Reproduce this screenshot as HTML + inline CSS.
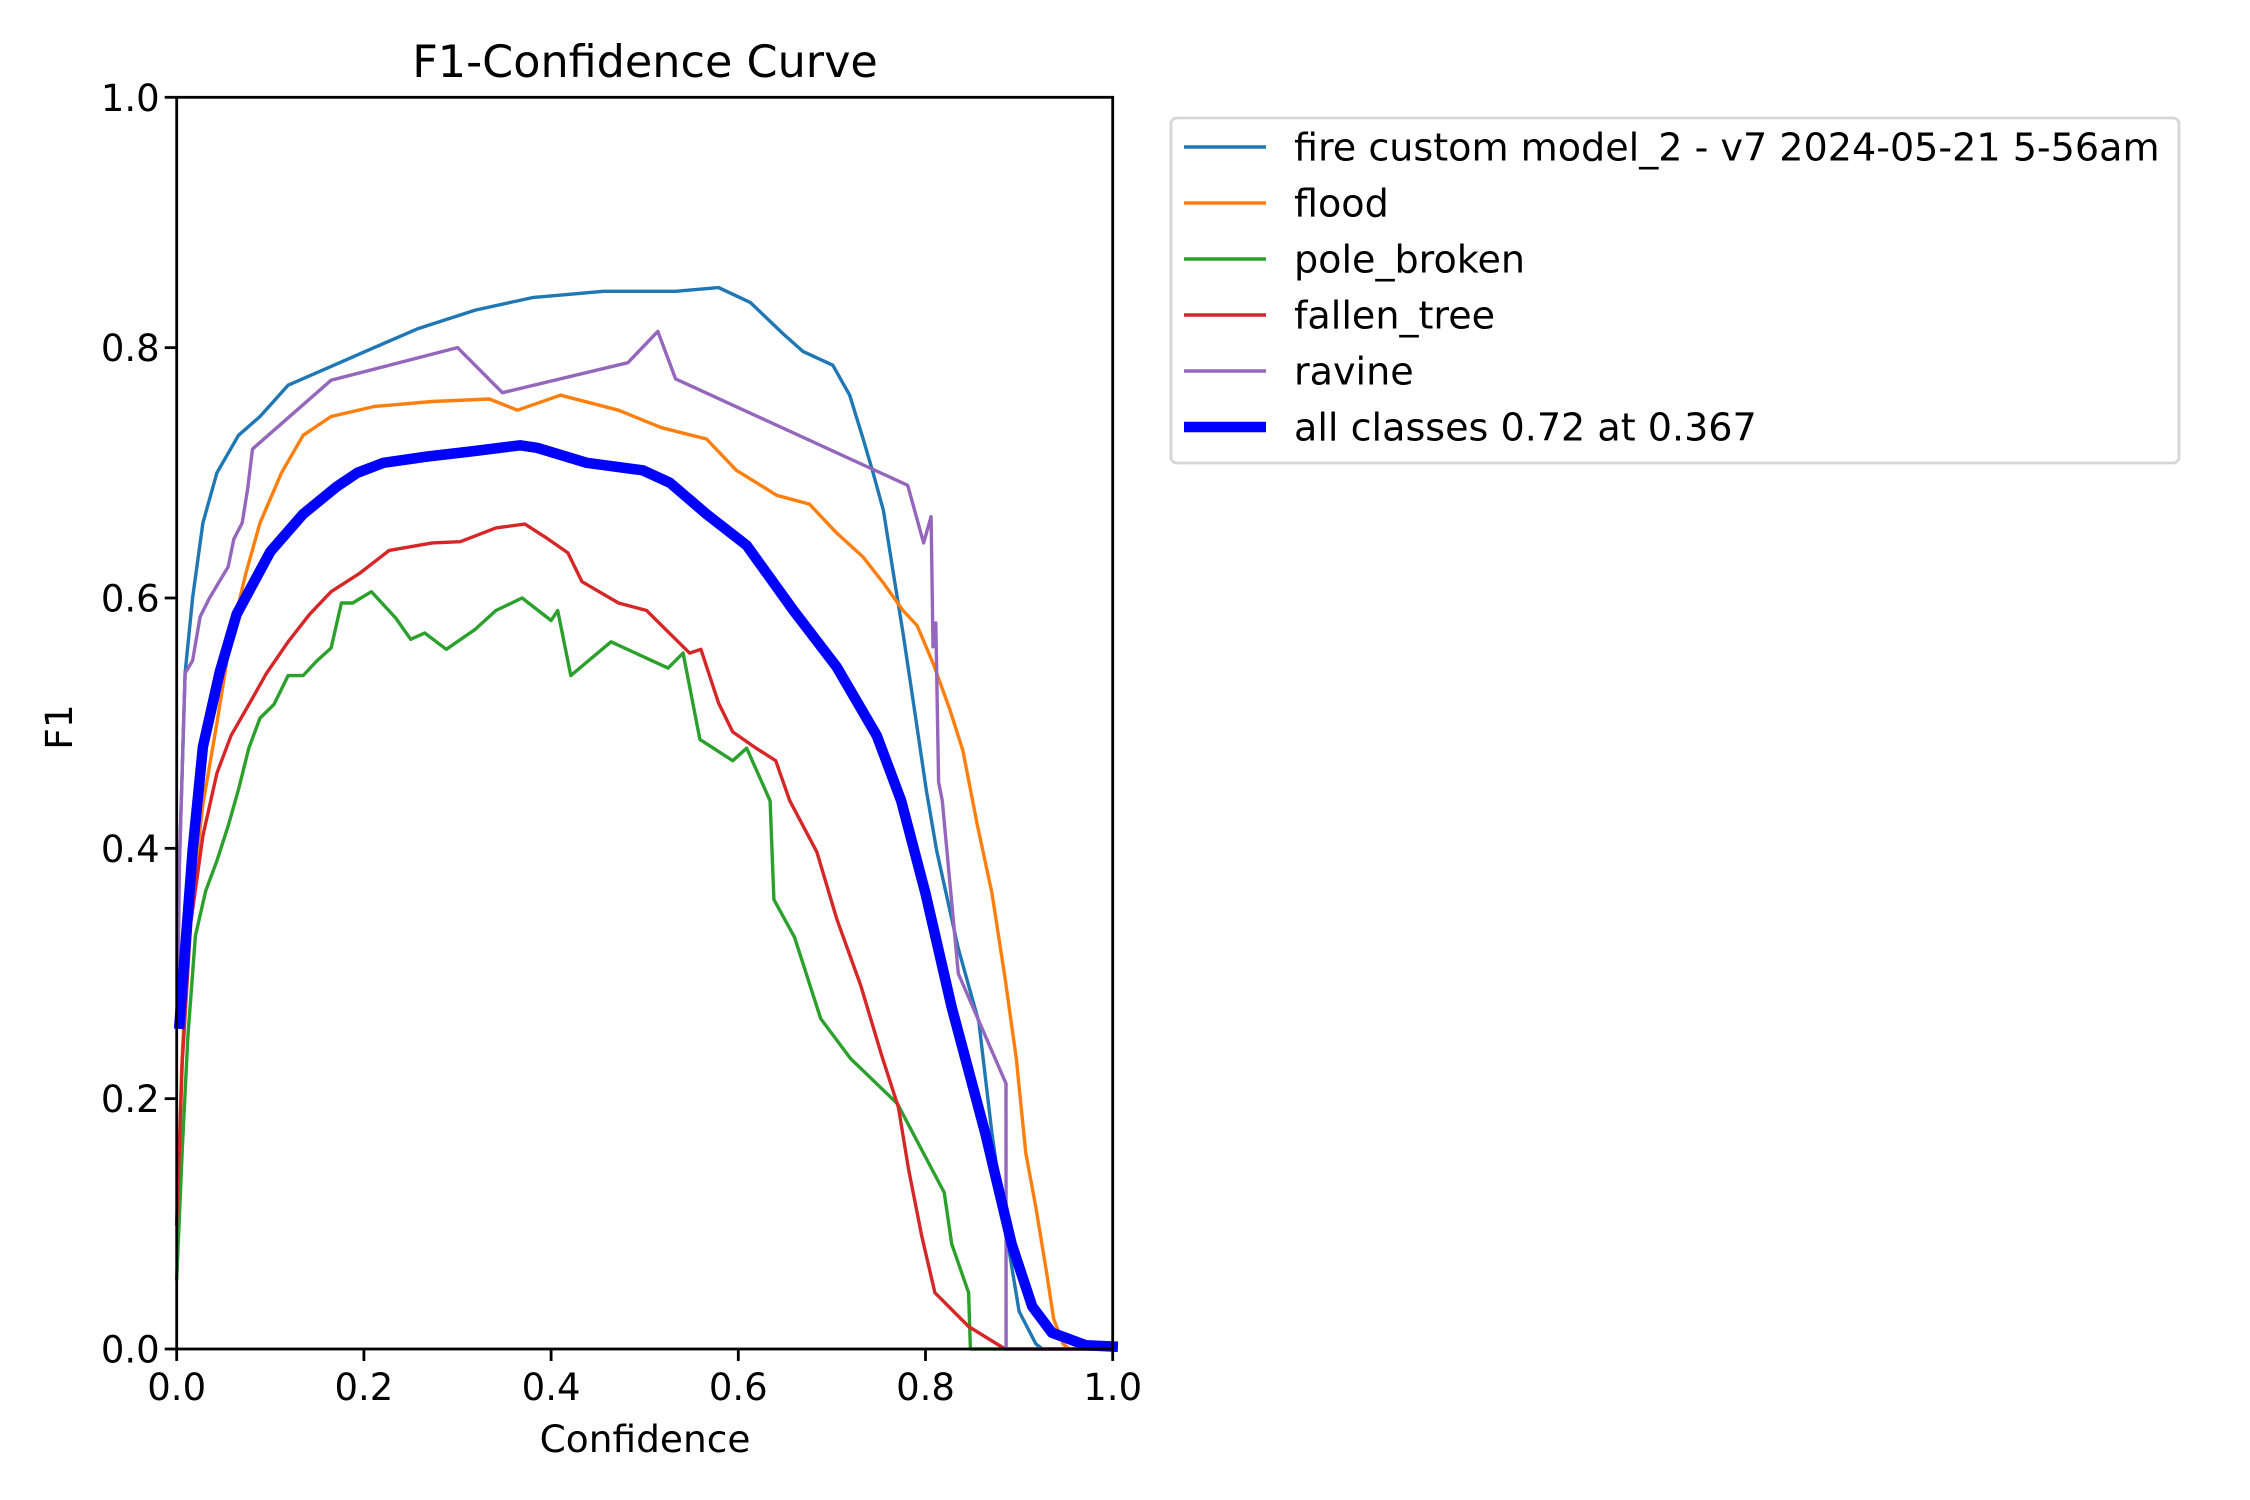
<!DOCTYPE html>
<html><head><meta charset="utf-8"><style>
html,body{margin:0;padding:0;background:#fff;}
svg{display:block;font-family:"DejaVu Sans","Liberation Sans",sans-serif;}
</style></head><body>
<svg id="chart" width="2250" height="1500" viewBox="0 0 2250 1500" xmlns="http://www.w3.org/2000/svg">
<rect width="2250" height="1500" fill="#fff"/>
<text x="645" y="77" font-size="44.5" text-anchor="middle">F1-Confidence Curve</text>
<g id="series"></g>
<g id="axes"></g>
<text x="645" y="1452" font-size="37.5" text-anchor="middle">Confidence</text>
<text x="0" y="0" font-size="37.5" text-anchor="middle" transform="translate(72,727) rotate(-90)">F1</text>
<g id="legend"></g>
</svg>
<script>
const xTicks=[0,0.2,0.4,0.6,0.8,1.0];
const yTicks=[0,0.2,0.4,0.6,0.8,1.0];
const tickLabels=["0.0","0.2","0.4","0.6","0.8","1.0"];
const fireX=[0.003,0.009,0.017,0.028,0.043,0.066,0.089,0.119,0.165,0.211,0.257,0.319,0.380,0.456,0.533,0.579,0.613,0.648,0.669,0.701,0.719,0.733,0.744,0.755,0.766,0.776,0.787,0.801,0.812,0.835,0.857,0.871,0.885,0.900,0.918,0.925,1.0];
const fireY=[0.39,0.54,0.60,0.66,0.70,0.73,0.745,0.77,0.785,0.80,0.815,0.83,0.84,0.845,0.845,0.848,0.836,0.811,0.797,0.786,0.762,0.728,0.70,0.67,0.618,0.572,0.517,0.446,0.398,0.32,0.261,0.172,0.098,0.03,0.004,0,0];
const floodX=[0.001,0.005,0.012,0.028,0.043,0.058,0.074,0.089,0.112,0.135,0.165,0.211,0.273,0.334,0.364,0.410,0.472,0.518,0.566,0.598,0.641,0.676,0.705,0.733,0.755,0.776,0.791,0.808,0.826,0.840,0.855,0.871,0.885,0.897,0.907,0.918,0.929,0.937,0.947,0.954,1.0];
const floodY=[0.10,0.22,0.33,0.435,0.50,0.57,0.62,0.66,0.70,0.73,0.745,0.753,0.757,0.759,0.75,0.762,0.75,0.736,0.727,0.702,0.682,0.675,0.652,0.633,0.612,0.59,0.578,0.548,0.511,0.478,0.42,0.364,0.296,0.232,0.157,0.113,0.063,0.024,0.004,0,0];
const poleX=[0,0.006,0.012,0.02,0.031,0.043,0.055,0.066,0.077,0.089,0.104,0.119,0.135,0.150,0.165,0.176,0.188,0.208,0.234,0.25,0.265,0.288,0.319,0.341,0.369,0.40,0.407,0.421,0.464,0.525,0.541,0.559,0.594,0.609,0.634,0.638,0.66,0.688,0.72,0.77,0.82,0.828,0.846,0.848,1.0];
const poleY=[0.056,0.16,0.25,0.33,0.366,0.39,0.418,0.447,0.48,0.504,0.515,0.538,0.538,0.55,0.56,0.596,0.596,0.605,0.584,0.567,0.572,0.559,0.575,0.59,0.60,0.582,0.59,0.538,0.565,0.544,0.556,0.487,0.47,0.48,0.438,0.359,0.329,0.264,0.232,0.196,0.125,0.084,0.045,0,0];
const treeX=[0,0.006,0.015,0.028,0.043,0.058,0.081,0.096,0.119,0.142,0.165,0.196,0.227,0.273,0.303,0.341,0.372,0.395,0.418,0.433,0.472,0.502,0.525,0.548,0.560,0.579,0.594,0.617,0.640,0.655,0.684,0.705,0.731,0.753,0.771,0.782,0.796,0.81,0.846,0.885,1.0];
const treeY=[0.10,0.23,0.34,0.41,0.46,0.49,0.52,0.54,0.565,0.587,0.605,0.62,0.638,0.644,0.645,0.656,0.659,0.648,0.636,0.613,0.596,0.59,0.573,0.556,0.559,0.516,0.493,0.481,0.47,0.438,0.397,0.344,0.29,0.235,0.193,0.143,0.09,0.045,0.018,0,0];
const ravineX=[0.001,0.003,0.009,0.017,0.025,0.035,0.055,0.061,0.07,0.076,0.081,0.165,0.30,0.348,0.482,0.514,0.533,0.781,0.798,0.806,0.808,0.811,0.814,0.818,0.835,0.886,0.8861,1.0];
const ravineY=[0.27,0.39,0.54,0.55,0.585,0.60,0.625,0.647,0.66,0.688,0.719,0.774,0.80,0.764,0.788,0.813,0.775,0.69,0.644,0.665,0.561,0.58,0.453,0.438,0.30,0.212,0,0];
const allX=[0.003,0.017,0.028,0.046,0.064,0.10,0.135,0.171,0.193,0.221,0.268,0.314,0.367,0.385,0.438,0.498,0.527,0.566,0.609,0.659,0.705,0.748,0.774,0.80,0.828,0.864,0.892,0.914,0.935,0.971,1.0];
const allY=[0.26,0.398,0.481,0.541,0.587,0.637,0.667,0.689,0.70,0.708,0.713,0.717,0.722,0.72,0.708,0.702,0.692,0.667,0.642,0.59,0.545,0.49,0.438,0.364,0.273,0.172,0.084,0.034,0.013,0.003,0.002];
const seriesNames=["fire custom model_2 - v7 2024-05-21 5-56am","flood","pole_broken","fallen_tree","ravine","all classes 0.72 at 0.367"];

const X0=176.7,X1=1112.7,Y0=1349,Y1=97.3;
function sx(v){return X0+v*(X1-X0);}
function sy(v){return Y0-v*(Y0-Y1);}
const NS="http://www.w3.org/2000/svg";
const series=[
 {x:fireX,y:fireY,c:"#1f77b4",w:3.4,n:"fire-curve"},
 {x:floodX,y:floodY,c:"#ff7f0e",w:3.4,n:"flood-curve"},
 {x:poleX,y:poleY,c:"#2ca02c",w:3.4,n:"pole-broken-curve"},
 {x:treeX,y:treeY,c:"#d62728",w:3.4,n:"fallen-tree-curve"},
 {x:ravineX,y:ravineY,c:"#9467bd",w:3.4,n:"ravine-curve"},
 {x:allX,y:allY,c:"#0000ff",w:10.5,n:"all-classes-curve"}];
const sg=document.getElementById('series');
series.forEach(s=>{
 const p=document.createElementNS(NS,'polyline');
 
 
 p.setAttribute('points',s.x.map((v,i)=>sx(v).toFixed(1)+','+sy(s.y[i]).toFixed(1)).join(' '));
 p.setAttribute('fill','none');p.setAttribute('stroke',s.c);p.setAttribute('stroke-width',s.w);
 p.setAttribute('stroke-linejoin','round');p.setAttribute('stroke-linecap','square');
 sg.appendChild(p);
});
const ag=document.getElementById('axes');
const frame=document.createElementNS(NS,'rect');


frame.setAttribute('x',X0);frame.setAttribute('y',Y1);frame.setAttribute('width',X1-X0);frame.setAttribute('height',Y0-Y1);
frame.setAttribute('fill','none');frame.setAttribute('stroke','#000');frame.setAttribute('stroke-width',2.8);
ag.appendChild(frame);
xTicks.forEach((v,i)=>{
 const l=document.createElementNS(NS,'line');
 
 
 l.setAttribute('x1',sx(v));l.setAttribute('x2',sx(v));l.setAttribute('y1',Y0);l.setAttribute('y2',Y0+12);
 l.setAttribute('stroke','#000');l.setAttribute('stroke-width',2.8);ag.appendChild(l);
 const t=document.createElementNS(NS,'text');
 
 
 t.setAttribute('x',sx(v));t.setAttribute('y',1400);t.setAttribute('font-size',37);t.setAttribute('text-anchor','middle');
 t.textContent=tickLabels[i];ag.appendChild(t);
});
yTicks.forEach((v,i)=>{
 const l=document.createElementNS(NS,'line');
 
 
 l.setAttribute('x1',X0-12);l.setAttribute('x2',X0);l.setAttribute('y1',sy(v));l.setAttribute('y2',sy(v));
 l.setAttribute('stroke','#000');l.setAttribute('stroke-width',2.8);ag.appendChild(l);
 const t=document.createElementNS(NS,'text');
 
 
 t.setAttribute('x',X0-17);t.setAttribute('y',sy(v)+13.5);t.setAttribute('font-size',37);t.setAttribute('text-anchor','end');
 t.textContent=tickLabels[i];ag.appendChild(t);
});
const lg=document.getElementById('legend');
const box=document.createElementNS(NS,'rect');


box.setAttribute('x',1171);box.setAttribute('y',118);box.setAttribute('width',1008);box.setAttribute('height',345);
box.setAttribute('rx',6);box.setAttribute('fill','#fff');box.setAttribute('fill-opacity',0.8);box.setAttribute('stroke','#d6d6d6');box.setAttribute('stroke-width',2.8);
lg.appendChild(box);
const legY=[147,203,259,315,371,427];
series.forEach((s,i)=>{
 const l=document.createElementNS(NS,'line');
 
 
 l.setAttribute('x1',1184);l.setAttribute('x2',1266);l.setAttribute('y1',legY[i]);l.setAttribute('y2',legY[i]);
 l.setAttribute('stroke',s.c);l.setAttribute('stroke-width',s.w);lg.appendChild(l);
 const t=document.createElementNS(NS,'text');
 
 
 t.setAttribute('x',1294);t.setAttribute('y',legY[i]+13.5);t.setAttribute('font-size',38.1);
 t.textContent=seriesNames[i];lg.appendChild(t);
});
</script>
</body></html>
